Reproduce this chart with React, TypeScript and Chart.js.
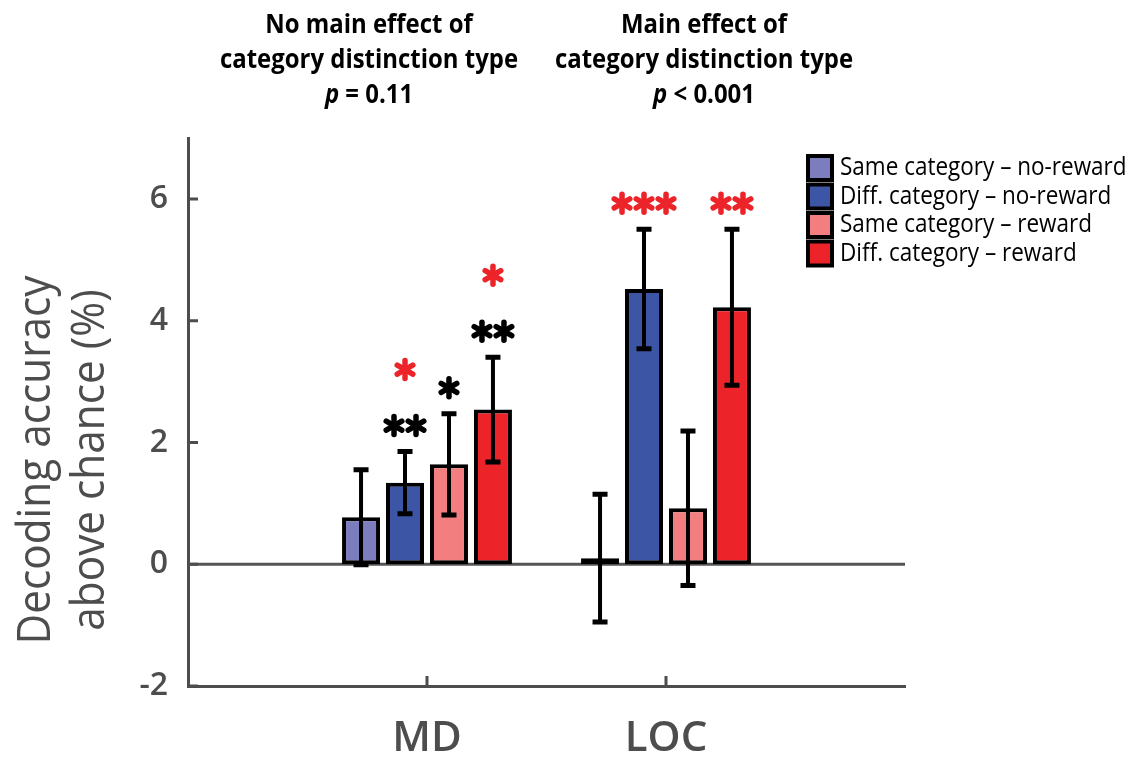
import React, { useEffect, useRef } from 'react';
import { Chart, registerables } from 'chart.js';

Chart.register(...registerables);

// ---------- data ----------
const categories = ['MD', 'LOC'];
const seriesLabels = [
  'Same category – no-reward',
  'Diff. category – no-reward',
  'Same category – reward',
  'Diff. category – reward',
];
const seriesColors = ['#7b7dbf', '#3d55a5', '#f37e80', '#ec242a'];

const sameNoReward = [0.77, 0.1];
const diffNoReward = [1.34, 4.52];
const sameReward = [1.64, 0.92];
const diffReward = [2.54, 4.22];

const sameNoRewardErr = [0.78, 1.05];
const diffNoRewardErr = [0.51, 0.98];
const sameRewardErr = [0.83, 1.27];
const diffRewardErr = [0.86, 1.28];

// significance stars per series, per category: [black row, red row]
const blackStars = [
  ['', ''],
  ['**', ''],
  ['*', ''],
  ['**', ''],
];
const redStars = [
  ['', ''],
  ['*', '***'],
  ['', ''],
  ['*', '**'],
];

const yTicks = [-2, 0, 2, 4, 6];
const yMin = -2;
const yMax = 7;

const titleLeft = ['No main effect of', 'category distinction type', '= 0.11'];
const titleRight = ['Main effect of', 'category distinction type', '< 0.001'];
const yTitle = ['Decoding accuracy', 'above chance (%)'];

const seriesValues = [sameNoReward, diffNoReward, sameReward, diffReward];
const seriesErrors = [sameNoRewardErr, diffNoRewardErr, sameRewardErr, diffRewardErr];

const FAMILY = '"Open Sans", sans-serif';
const AXIS = '#4d4d4d';
const RED = '#ec242a';

type Run = { text: string; font: string };

function drawRuns(ctx: CanvasRenderingContext2D, runs: Run[], cx: number, cy: number, color: string, sx: number) {
  ctx.save();
  ctx.fillStyle = color;
  ctx.textBaseline = 'middle';
  ctx.textAlign = 'left';
  let total = 0;
  const widths = runs.map((r) => {
    ctx.font = r.font;
    const w = ctx.measureText(r.text).width;
    total += w;
    return w;
  });
  ctx.translate(cx, cy);
  ctx.scale(sx, 1);
  let x = -total / 2;
  runs.forEach((r, i) => {
    ctx.font = r.font;
    ctx.fillText(r.text, x, 0);
    x += widths[i];
  });
  ctx.restore();
}

function drawStar(ctx: CanvasRenderingContext2D, cx: number, cy: number, r: number, color: string) {
  ctx.save();
  ctx.strokeStyle = color;
  ctx.lineWidth = 5.5;
  ctx.lineCap = 'round';
  [90, 30, -30].forEach((deg) => {
    const a = (deg * Math.PI) / 180;
    ctx.beginPath();
    ctx.moveTo(cx - r * Math.cos(a), cy - r * Math.sin(a));
    ctx.lineTo(cx + r * Math.cos(a), cy + r * Math.sin(a));
    ctx.stroke();
  });
  ctx.restore();
}

function drawStarRow(ctx: CanvasRenderingContext2D, s: string, cx: number, cy: number, color: string) {
  const n = s.length;
  const gap = 22;
  for (let k = 0; k < n; k++) {
    drawStar(ctx, cx + (k - (n - 1) / 2) * gap, cy, 9, color);
  }
}

const overlay = {
  id: 'overlay',
  beforeDatasetsDraw(chart: any) {
    const { ctx, chartArea, scales } = chart;
    const y0 = scales.y.getPixelForValue(0);
    ctx.save();
    ctx.strokeStyle = '#555555';
    ctx.lineWidth = 3;
    ctx.beginPath();
    ctx.moveTo(chartArea.left, y0);
    ctx.lineTo(chartArea.right, y0);
    ctx.stroke();
    ctx.restore();
  },
  afterDatasetsDraw(chart: any) {
    const { ctx, scales } = chart;
    const ys = scales.y;
    seriesValues.forEach((vals, i) => {
      const meta = chart.getDatasetMeta(i);
      vals.forEach((v, j) => {
        const el = meta.data[j + 1];
        if (!el) return;
        const e = seriesErrors[i][j];
        const x = el.x;
        const yt = ys.getPixelForValue(v + e);
        const yb = ys.getPixelForValue(v - e);
        ctx.save();
        ctx.strokeStyle = '#000';
        ctx.lineWidth = 4;
        ctx.beginPath();
        ctx.moveTo(x, yt);
        ctx.lineTo(x, yb);
        ctx.stroke();
        ctx.lineWidth = 5;
        ctx.beginPath();
        ctx.moveTo(x - 7.5, yt);
        ctx.lineTo(x + 7.5, yt);
        ctx.moveTo(x - 7.5, yb);
        ctx.lineTo(x + 7.5, yb);
        ctx.stroke();
        ctx.restore();
        // stars
        let rowY = yt - 26;
        const b = blackStars[i][j];
        const r = redStars[i][j];
        if (b) {
          drawStarRow(ctx, b, x, rowY, '#000');
          rowY -= 56;
        }
        if (r) drawStarRow(ctx, r, x, rowY, RED);
      });
    });
  },
  afterDraw(chart: any) {
    const { ctx, chartArea, scales } = chart;
    const xs = scales.x;
    const ys = scales.y;
    ctx.save();
    ctx.strokeStyle = AXIS;
    ctx.lineWidth = 3;
    ctx.beginPath();
    yTicks.forEach((t) => {
      const y = ys.getPixelForValue(t);
      ctx.moveTo(chartArea.left, y);
      ctx.lineTo(chartArea.left + 10, y);
    });
    categories.forEach((c) => {
      const x = xs.getPixelForValue(xs.getLabels().indexOf(c));
      ctx.moveTo(x, chartArea.bottom);
      ctx.lineTo(x, chartArea.bottom - 10);
    });
    ctx.stroke();
    ctx.restore();

    // y title
    ctx.save();
    ctx.translate(37, 460);
    ctx.rotate(-Math.PI / 2);
    drawRuns(ctx, [{ text: yTitle[0], font: `400 46px ${FAMILY}` }], 0, 0, AXIS, 0.92);
    drawRuns(ctx, [{ text: yTitle[1], font: `400 46px ${FAMILY}` }], 0, 54, AXIS, 0.92);
    ctx.restore();

    // top titles
    const tb = `700 27.5px ${FAMILY}`;
    const ti = `italic 700 27.5px ${FAMILY}`;
    const blocks = [
      { lines: titleLeft, cx: 369 },
      { lines: titleRight, cx: 704 },
    ];
    blocks.forEach((bk) => {
      drawRuns(ctx, [{ text: bk.lines[0], font: tb }], bk.cx, 25, '#000', 0.87);
      drawRuns(ctx, [{ text: bk.lines[1], font: tb }], bk.cx, 60, '#000', 0.87);
      drawRuns(ctx, [{ text: 'p', font: ti }, { text: ' ' + bk.lines[2], font: tb }], bk.cx, 95, '#000', 0.87);
    });

    // legend
    const lx = 808;
    const ly = 156;
    const rowH = 28.5;
    seriesLabels.forEach((lab, i) => {
      const top = ly + i * rowH;
      ctx.save();
      ctx.fillStyle = seriesColors[i];
      ctx.fillRect(lx, top, 24, 24);
      ctx.strokeStyle = '#000';
      ctx.lineWidth = 4;
      ctx.strokeRect(lx, top, 24, 24);
      ctx.restore();
      ctx.save();
      ctx.font = `400 25px ${FAMILY}`;
      ctx.fillStyle = '#000';
      ctx.textBaseline = 'middle';
      ctx.textAlign = 'left';
      ctx.translate(lx + 32, top + 12);
      ctx.scale(0.9, 1);
      ctx.fillText(lab, 0, 0);
      ctx.restore();
    });
  },
};

export default function App() {
  const ref = useRef<HTMLCanvasElement | null>(null);
  useEffect(() => {
    document.body.style.margin = '0';
    const canvas = ref.current;
    if (!canvas) return;
    const labels = ['', ...categories, ''];
    const chart = new Chart(canvas, {
      type: 'bar',
      data: {
        labels,
        datasets: seriesLabels.map((label, i) => ({
          label,
          data: [null, ...seriesValues[i], null] as any,
          backgroundColor: seriesColors[i],
          borderColor: '#000',
          borderWidth: 4,
          borderSkipped: false,
          categoryPercentage: 0.736,
          barPercentage: 0.864,
        })),
      },
      options: {
        animation: false,
        responsive: false,
        maintainAspectRatio: false,
        devicePixelRatio: 1,
        layout: { padding: { top: 138, right: 243, left: 0, bottom: 0 } },
        plugins: { legend: { display: false }, tooltip: { enabled: false } },
        scales: {
          x: {
            type: 'category',
            offset: false,
            grid: { display: false, drawTicks: false },
            border: { display: true, color: AXIS, width: 3 },
            ticks: {
              font: { family: FAMILY, size: 42, weight: '600' },
              color: AXIS,
              padding: 28,
              autoSkip: false,
              maxRotation: 0,
            },
            afterFit: (s: any) => {
              s.height = 71;
            },
          },
          y: {
            min: yMin,
            max: yMax,
            grid: { display: false, drawTicks: false },
            border: { display: true, color: AXIS, width: 3 },
            ticks: {
              font: { family: FAMILY, size: 32, weight: '600' },
              color: AXIS,
              padding: 20,
            },
            afterBuildTicks: (s: any) => {
              s.ticks = yTicks.map((v) => ({ value: v }));
            },
            afterFit: (s: any) => {
              s.width = 188;
            },
          },
        },
      },
      plugins: [overlay],
    } as any);
    return () => chart.destroy();
  }, []);
  return <canvas ref={ref} width={1148} height={757} style={{ display: 'block' }} />;
}
